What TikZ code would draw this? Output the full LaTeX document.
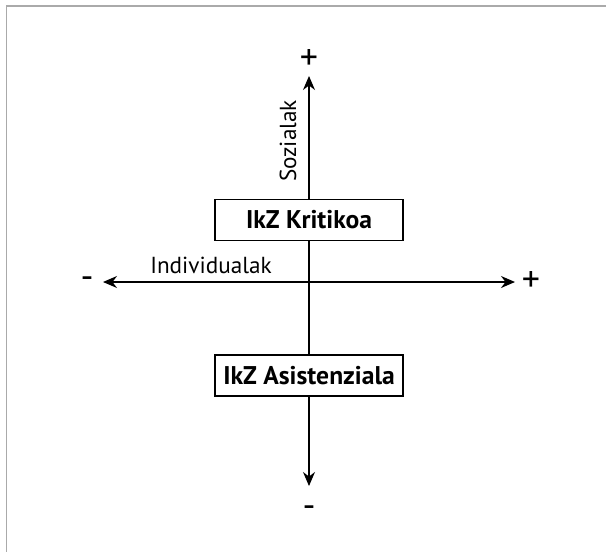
\documentclass[tikz,border=0pt]{standalone}
\usepackage{fontspec}
\setmainfont{PT Sans}
\usetikzlibrary{arrows.meta}
\definecolor{framegray}{RGB}{170,170,170}

\begin{document}
\begin{tikzpicture}[x=0.5pt,y=-0.5pt,
    axisbox/.style={draw, fill=white, line width=0.75pt, minimum width=94pt, minimum height=20.5pt, inner sep=0pt, font=\fontsize{12.8}{14}\selectfont\bfseries},
    axisline/.style={line width=0.75pt},
    axisend/.style={font=\fontsize{18}{20}\selectfont, inner sep=0pt}]
    \useasboundingbox (0,0) rectangle (606,552);

    % draw frame
    \draw[framegray, line width=0.75pt] (6.5,552) -- (6.5,6) -- (606,6);

    % draw end points
    \coordinate (topend) at (309,76);
    \coordinate (botend) at (309,486);
    \coordinate (leftend) at (103,282);
    \coordinate (rightend) at (515,282);

    % draw boxes
    \node[axisbox] (kritikoa) at (309,220) {IkZ Kritikoa};
    \node[axisbox] (asistenziala) at (309,375.5) {IkZ Asistenziala};

    % draw axes
    \draw[axisline, {Stealth[length=7pt,width=6pt]}-{Stealth[length=7pt,width=6pt]}] (leftend) -- (rightend);
    \draw[axisline, -{Stealth[length=7pt,width=6pt]}] (kritikoa) -- (topend);
    \draw[axisline] (kritikoa) -- (asistenziala);
    \draw[axisline, -{Stealth[length=7pt,width=6pt]}] (asistenziala) -- (botend);

    % draw signs
    \node[axisend] (topsign) at (309,60) {+};
    \node[axisend] (botsign) at (309,512) {-};
    \node[axisend] (leftsign) at (87,283) {-};
    \node[axisend] (rightsign) at (531,282) {+};

    % draw axis names
    \node[font=\fontsize{11.6}{13}\selectfont, rotate=90] (sozialak) at (288,141) {Sozialak};
    \node[font=\fontsize{11.6}{13}\selectfont] (individualak) at (211,265) {Individualak};
\end{tikzpicture}
\end{document}
